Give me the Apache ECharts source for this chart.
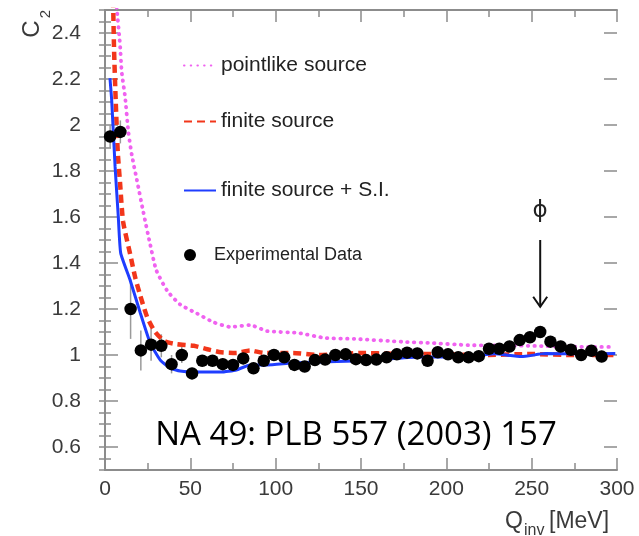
<!DOCTYPE html>
<html><head><meta charset="utf-8">
<script src="https://cdn.jsdelivr.net/npm/echarts@6/dist/echarts.min.js"></script>
<style>html,body{margin:0;padding:0;background:#fff}#c{width:639px;height:536px}</style>
</head><body><div id="c"></div>
<script>
// ---- data ----
const expQ = [3,9,15,21,27,33,39,45,51,57,63,69,75,81,87,93,99,105,111,117,123,129,135,141,147,153,159,165,171,177,183,189,195,201,207,213,219,225,231,237,243,249,255,261,267,273,279,285,291];
const expC = [1.95,1.97,1.20,1.02,1.045,1.04,0.96,1.00,0.92,0.975,0.975,0.96,0.957,0.985,0.942,0.975,1.0,0.99,0.957,0.95,0.978,0.98,1.0,1.003,0.982,0.978,0.98,0.99,1.003,1.01,1.007,0.975,1.012,1.003,0.99,0.99,0.995,1.027,1.027,1.037,1.065,1.077,1.10,1.058,1.037,1.023,1.0,1.018,0.993];
const expErr = [0.05,0.05,0.13,0.087,0.07,0.05,0.04,0.035,0.025,0.025,0.025,0.025,0.025,0.025,0.025,0.025,0.025,0.025,0.025,0.025,0.025,0.025,0.025,0.025,0.025,0.025,0.025,0.025,0.025,0.025,0.025,0.025,0.025,0.025,0.025,0.025,0.025,0.025,0.025,0.025,0.025,0.025,0.025,0.025,0.025,0.025,0.025,0.025,0.025];

const pointQ = [6.2,6.9,8.8,9.8,11.8,13.7,15.7,18.7,22.5,26.5,30,36.4,44,54,63.5,73.5,85,95,113,129,146,175,191,213,248,287,298];
const pointC = [2.6,2.51,2.35,2.23,2.12,1.97,1.87,1.76,1.62,1.48,1.37,1.28,1.22,1.18,1.143,1.122,1.13,1.104,1.096,1.074,1.07,1.057,1.052,1.043,1.04,1.035,1.035];

const finiteQ = [4.6,5.3,6.3,7.5,8.8,10.6,14.7,17.6,20.6,24.7,29.4,35,42,52,60,68,77,85,93,110,125,150,170,195,220,250,275,298];
const finiteC = [2.6,2.33,2.1,1.88,1.75,1.58,1.44,1.34,1.26,1.165,1.1,1.06,1.047,1.04,1.025,1.012,1.009,1.02,1.009,1.009,1.0,1.009,1.005,1.004,1.0,1.004,1.0,1.0];

const siQ = [2.9,3.9,5.9,7.8,9.2,14.7,20.6,26.5,32.4,38.2,44,56,68,77,85,95,109,126,146,166,185,209,228,244,258,280,299];
const siC = [2.204,2.11,1.82,1.6,1.443,1.326,1.185,1.052,0.978,0.943,0.93,0.926,0.926,0.935,0.957,0.957,0.965,0.97,0.974,0.983,0.991,0.991,1.005,0.993,1.006,1.005,1.007];

const xTickValues = [0,50,100,150,200,250,300];
const yTickValues = [0.6,0.8,1,1.2,1.4,1.6,1.8,2,2.2,2.4];

const zip = (a,b) => a.map((v,i)=>[v,b[i]]);

const frameCol = '#8c8c8c';
const labelCol = '#3a3a3a';
const font = 'Liberation Sans';

const chart = echarts.init(document.getElementById('c'), null, {renderer:'canvas'});

const legendBase = {
  orient:'vertical', padding:0, selectedMode:false, itemWidth:32, itemHeight:14,
  itemStyle:{opacity:0, color:'rgba(0,0,0,0)', borderWidth:0},
  textStyle:{fontFamily:font, fontSize:21, color:'#222'}
};

chart.setOption({
  animation:false,
  backgroundColor:'#fff',
  grid:[
    {left:105, right:22, top:10, bottom:66, containLabel:false},
    {left:105, right:22, top:33, bottom:89, containLabel:false}
  ],
  xAxis:[
    {type:'value', gridIndex:0, position:'bottom', min:0, max:300, interval:50,
     axisLine:{show:true, lineStyle:{color:frameCol, width:2}},
     axisTick:{show:true, inside:true, length:12, lineStyle:{color:frameCol, width:1.5}},
     minorTick:{show:true, splitNumber:2, length:7, lineStyle:{color:frameCol, width:1.5}},
     axisLabel:{show:true, margin:9, fontFamily:font, fontSize:21, color:labelCol,
       formatter:v => xTickValues.includes(v) ? String(v) : ''},
     splitLine:{show:false}},
    {type:'value', gridIndex:0, position:'top', min:0, max:300, interval:50,
     axisLine:{show:true, lineStyle:{color:frameCol, width:2}},
     axisTick:{show:true, inside:true, length:12, lineStyle:{color:frameCol, width:1.5}},
     minorTick:{show:true, splitNumber:2, length:7, lineStyle:{color:frameCol, width:1.5}},
     axisLabel:{show:false}, splitLine:{show:false}},
    {type:'value', gridIndex:1, min:0, max:300, show:false}
  ],
  yAxis:[
    {type:'value', gridIndex:0, position:'left', min:0.5, max:2.5, interval:0.05,
     axisLine:{show:true, lineStyle:{color:frameCol, width:2}},
     axisTick:{show:true, inside:true, length:6, lineStyle:{color:frameCol, width:1.5}},
     axisLabel:{show:false}, splitLine:{show:false}},
    {type:'value', gridIndex:0, position:'right', min:0.5, max:2.5, interval:0.05,
     axisLine:{show:true, lineStyle:{color:frameCol, width:2}},
     axisTick:{show:true, inside:true, length:6, lineStyle:{color:frameCol, width:1.5}},
     axisLabel:{show:false}, splitLine:{show:false}},
    {type:'value', gridIndex:1, position:'left', min:0.6, max:2.4, interval:0.2,
     axisLine:{show:false},
     axisTick:{show:true, inside:true, length:13, lineStyle:{color:frameCol, width:1.5}},
     axisLabel:{show:true, margin:24, fontFamily:font, fontSize:21, color:labelCol,
       formatter:v => { const r = Math.round(v*10)/10; return yTickValues.includes(r) ? String(r) : ''; }},
     splitLine:{show:false}},
    {type:'value', gridIndex:1, position:'right', min:0.6, max:2.4, interval:0.2,
     axisLine:{show:false},
     axisTick:{show:true, inside:true, length:13, lineStyle:{color:frameCol, width:1.5}},
     axisLabel:{show:false}, splitLine:{show:false}}
  ],
  legend:[
    Object.assign({}, legendBase, {left:183, top:55, data:['pointlike source']}),
    Object.assign({}, legendBase, {left:183, top:111, data:['finite source']}),
    Object.assign({}, legendBase, {left:183, top:180, data:['finite source + S.I.']}),
    {orient:'vertical', padding:0, selectedMode:false, left:184, top:246, itemWidth:38, itemHeight:12,
      itemStyle:{color:'#000', opacity:1},
      textStyle:{fontFamily:font, fontSize:18, color:'#222'}, data:['Experimental Data']}
  ],
  series:[
    {name:'pointlike source', type:'line', xAxisIndex:0, yAxisIndex:0, data:zip(pointQ, pointC),
     showSymbol:false, symbol:'none', smooth:0.2, clip:true, z:3,
     lineStyle:{color:'#f062f0', width:3.8, type:[0.5,6.2], cap:'round'}, itemStyle:{color:'#f062f0'}},
    {name:'finite source', type:'line', xAxisIndex:0, yAxisIndex:0, data:zip(finiteQ, finiteC),
     showSymbol:false, symbol:'none', smooth:0.2, clip:true, z:3,
     lineStyle:{color:'#f2361a', width:4.5, type:[8,5]}, itemStyle:{color:'#f2361a'}},
    {name:'finite source + S.I.', type:'line', xAxisIndex:0, yAxisIndex:0, data:zip(siQ, siC),
     showSymbol:false, symbol:'none', smooth:0.15, clip:true, z:4,
     lineStyle:{color:'#1f3dff', width:3}, itemStyle:{color:'#1f3dff'}},
    {name:'errors', type:'custom', xAxisIndex:0, yAxisIndex:0, z:2,
     data: expQ.map((q,i)=>[q, expC[i], expErr[i]]),
     encode:{x:0, y:1},
     renderItem:(params, api) => {
       const x = api.value(0), y = api.value(1), e = api.value(2);
       const p1 = api.coord([x, y+e]), p2 = api.coord([x, y-e]);
       return {type:'line', shape:{x1:p1[0], y1:p1[1], x2:p2[0], y2:p2[1]},
               style:{stroke:'#9a9a9a', lineWidth:1.5}};
     }},
    {name:'Experimental Data', type:'scatter', xAxisIndex:0, yAxisIndex:0, data:zip(expQ, expC),
     symbol:'circle', symbolSize:12.5, z:5, itemStyle:{color:'#000', opacity:1}}
  ]
});

// annotations positioned through the axes
const phiTop = chart.convertToPixel({xAxisIndex:0, yAxisIndex:0}, [255, 1.625]);
const arrA = chart.convertToPixel({xAxisIndex:0, yAxisIndex:0}, [255, 1.5]);
const arrB = chart.convertToPixel({xAxisIndex:0, yAxisIndex:0}, [255, 1.21]);

chart.setOption({
  graphic:[
    {type:'text', x:32, y:29, rotation:Math.PI/2, style:{text:'C', font:'24px "Liberation Sans"', fill:labelCol, align:'center', verticalAlign:'middle'}},
    {type:'text', x:46, y:14, rotation:Math.PI/2, style:{text:'2', font:'15px "Liberation Sans"', fill:labelCol, align:'center', verticalAlign:'middle'}},
    {type:'text', x:505, y:522, style:{text:'Q', font:'23px "Liberation Sans"', fill:labelCol, align:'left', verticalAlign:'middle'}},
    {type:'text', x:524, y:531, style:{text:'inv', font:'16px "Liberation Sans"', fill:labelCol, align:'left', verticalAlign:'middle'}},
    {type:'text', x:549, y:522, style:{text:'[MeV]', font:'23px "Liberation Sans"', fill:labelCol, align:'left', verticalAlign:'middle'}},
    {type:'text', x:phiTop[0], y:phiTop[1], style:{text:'ϕ', font:'23px "DejaVu Sans"', fill:'#222', align:'center', verticalAlign:'middle'}},
    {type:'line', shape:{x1:arrA[0], y1:arrA[1], x2:arrB[0], y2:arrB[1]}, style:{stroke:'#111', lineWidth:2}},
    {type:'polyline', shape:{points:[[arrB[0]-7, arrB[1]-10],[arrB[0], arrB[1]],[arrB[0]+7, arrB[1]-10]]}, style:{stroke:'#111', lineWidth:2, fill:null}},
    {type:'text', x:356, y:436, style:{text:'NA 49: PLB 557 (2003) 157', font:'33px "Open Sans"', fill:'#000', align:'center', verticalAlign:'middle'}}
  ]
});
</script>
</body></html>
